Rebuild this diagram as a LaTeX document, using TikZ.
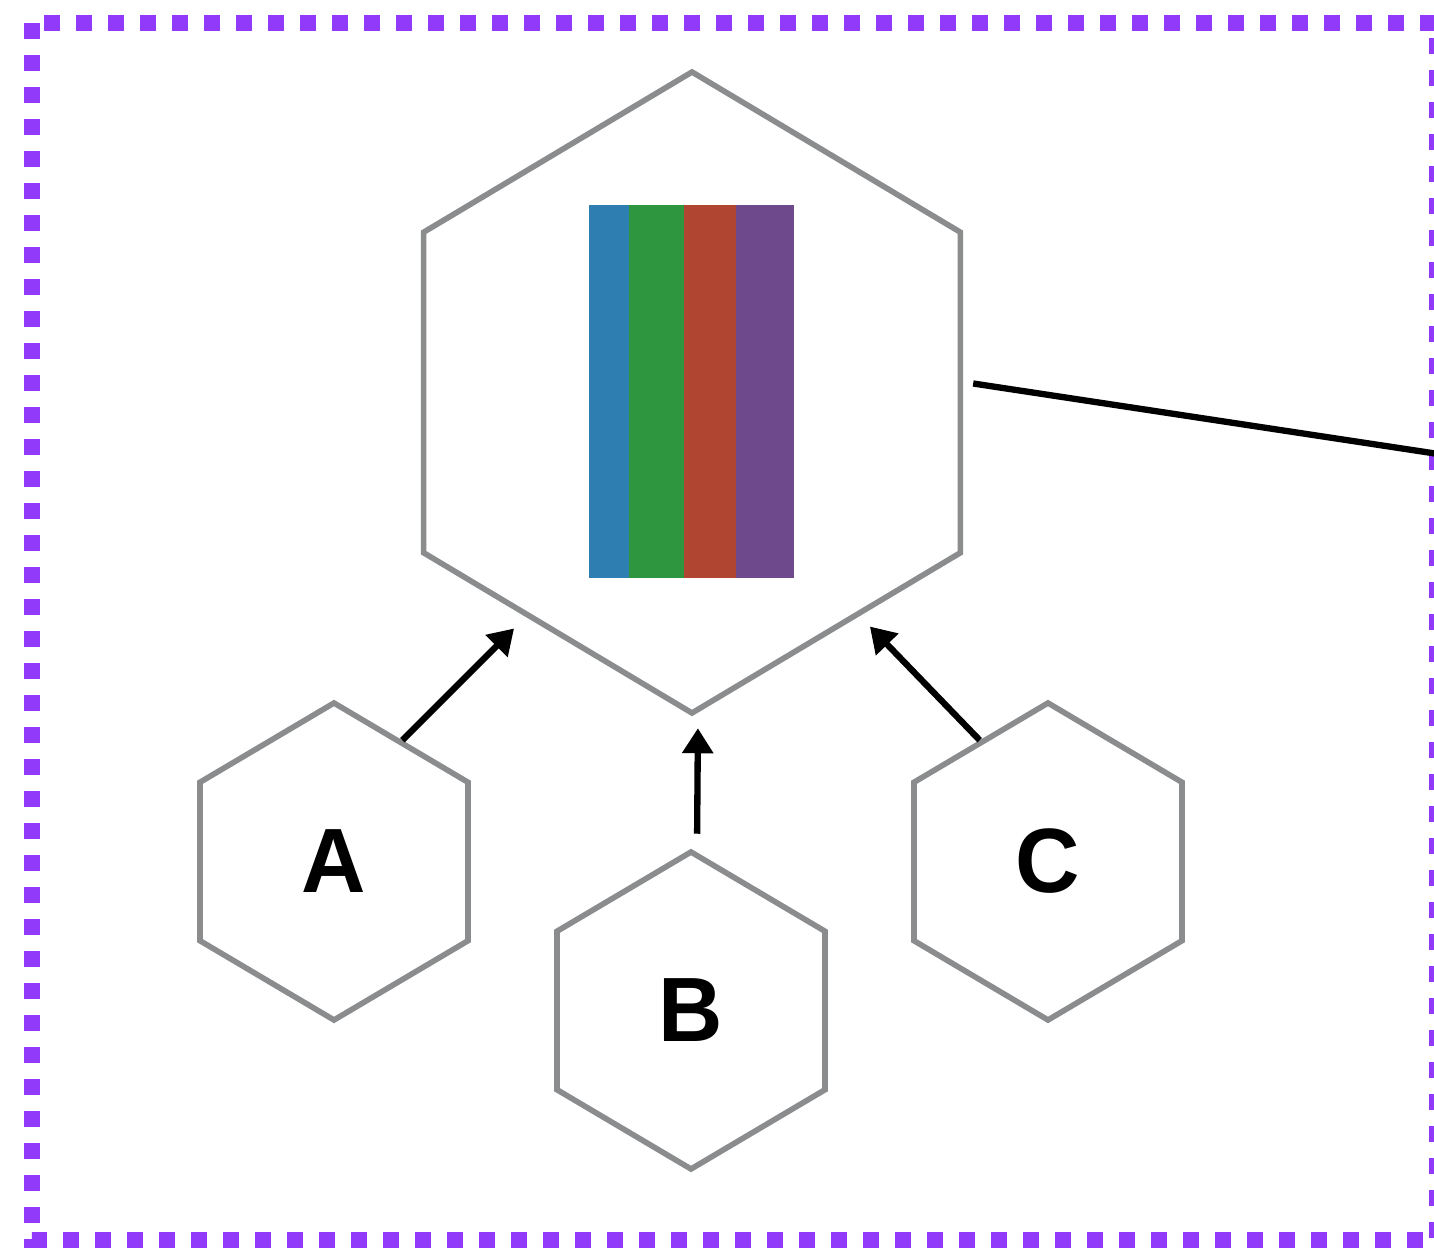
\documentclass[tikz,border=0pt]{standalone}
\usepackage{fontspec}
\setsansfont{Liberation Sans}
\usetikzlibrary{arrows.meta,shapes.geometric}
\definecolor{framepurple}{RGB}{146,58,250}
\definecolor{hexgray}{RGB}{138,140,142}
\definecolor{stripeblue}{RGB}{46,126,178}
\definecolor{stripegreen}{RGB}{46,150,62}
\definecolor{stripered}{RGB}{176,69,50}
\definecolor{stripepurple}{RGB}{110,74,141}
\begin{document}
\begin{tikzpicture}[>={Triangle[length=0.25cm,width=0.3cm]},
  hexa/.style={draw=hexgray,line width=1.6pt,regular polygon,regular polygon sides=6,shape border rotate=30,inner sep=0pt,font=\sffamily\bfseries\fontsize{26}{26}\selectfont},
  arr/.style={->,line width=1.8pt}]
\useasboundingbox (0,0) rectangle (14.34,-12.48);
\clip (0,0) rectangle (14.34,-12.48);
% frame
\draw[framepurple,line width=0.16cm,dash pattern=on 0.16cm off 0.16cm] (0.32,-0.23) rectangle (14.37,-12.40);
% hexagons
\node[hexa,minimum size=6.41cm,xscale=0.967,transform shape] (big) at (6.92,-3.925) {};
\node[hexa,minimum size=3.17cm,xscale=0.976,transform shape] (A) at (3.34,-8.615) {A};
\node[hexa,minimum size=3.17cm,xscale=0.976,transform shape] (B) at (6.91,-10.105) {B};
\node[hexa,minimum size=3.17cm,xscale=0.976,transform shape] (C) at (10.48,-8.615) {C};
% stripes
\fill[stripeblue] (5.89,-2.05) rectangle (6.29,-5.78);
\fill[stripegreen] (6.29,-2.05) rectangle (6.84,-5.78);
\fill[stripered] (6.84,-2.05) rectangle (7.36,-5.78);
\fill[stripepurple] (7.36,-2.05) rectangle (7.94,-5.78);
% arrows
\draw[arr] (A.60) -- ++(45:1.58);
\draw[arr,shorten <=0.15cm,shorten >=0.12cm] ([xshift=0.06cm]B.north) -- ([xshift=0.06cm]big.south);
\draw[arr] (C.120) -- ++(134:1.58);
% link out
\coordinate (out) at (14.45,-4.55);
\draw[line width=1.8pt] ([shift={(0.1,0.09)}]big.east) -- (out);
\end{tikzpicture}
\end{document}
